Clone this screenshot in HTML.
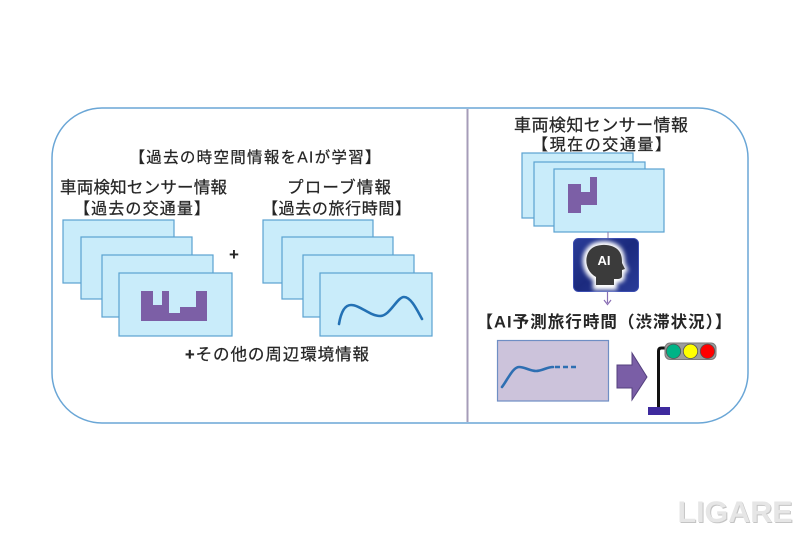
<!DOCTYPE html>
<html><head><meta charset="utf-8"><style>
html,body{margin:0;padding:0;background:#fff;width:800px;height:533px;overflow:hidden}
svg{display:block}
text{font-family:"Liberation Sans","Noto Sans CJK JP",sans-serif;fill:#262626}
.t{stroke:#262626;stroke-width:0.25}
</style></head><body>
<svg width="800" height="533" viewBox="0 0 800 533" xmlns="http://www.w3.org/2000/svg">
<defs>
<filter id="glow" x="-50%" y="-50%" width="200%" height="200%"><feGaussianBlur stdDeviation="2.2"/></filter>
<linearGradient id="navy" x1="0" y1="0" x2="1" y2="1"><stop offset="0" stop-color="#2a3c98"/><stop offset="0.5" stop-color="#1b2a7e"/><stop offset="1" stop-color="#2a3c98"/></linearGradient>
</defs>
<rect width="800" height="533" fill="#fff"/>
<rect x="52" y="108" width="696" height="315" rx="50" ry="50" fill="#fff" stroke="#6aa6d6" stroke-width="1.5"/>
<line x1="467.5" y1="109" x2="467.5" y2="422" stroke="#a69cb8" stroke-width="2"/>

<!-- left texts -->
<text class="t" x="255" y="162.5" font-size="15.5" text-anchor="middle" textLength="251" lengthAdjust="spacing">【過去の時空間情報をAIが学習】</text>
<text class="t" x="143.5" y="193" font-size="16.5" text-anchor="middle" textLength="167" lengthAdjust="spacing">車両検知センサー情報</text>
<text class="t" x="142" y="214" font-size="16" text-anchor="middle" textLength="136" lengthAdjust="spacing">【過去の交通量】</text>
<text class="t" x="339" y="193" font-size="16.5" text-anchor="middle" textLength="104" lengthAdjust="spacing">プローブ情報</text>
<text class="t" x="336.5" y="214" font-size="16" text-anchor="middle" textLength="149" lengthAdjust="spacing">【過去の旅行時間】</text>
<text x="234" y="260" font-size="17" font-weight="bold" text-anchor="middle">+</text>
<text class="t" x="277" y="360" font-size="16.5" text-anchor="middle" textLength="184" lengthAdjust="spacing"><tspan font-weight="bold">+</tspan>その他の周辺環境情報</text>

<!-- left stack 1 -->
<g fill="#c9ecfa" stroke="#5aa2d0" stroke-width="1.2">
<rect x="63" y="220" width="111" height="63"/>
<rect x="81" y="237" width="111" height="62"/>
<rect x="102" y="255" width="111" height="62"/>
<rect x="119" y="273" width="113" height="63"/>
</g>
<polygon points="141,291 153,291 153,305 162,305 162,291 169,291 169,313 180,313 180,307 196,307 196,291 207,291 207,321 141,321" fill="#7c5fa6"/>

<!-- left stack 2 -->
<g fill="#c9ecfa" stroke="#5aa2d0" stroke-width="1.2">
<rect x="263" y="220" width="110" height="63"/>
<rect x="282" y="237" width="111" height="62"/>
<rect x="303" y="255" width="111" height="62"/>
<rect x="320" y="273" width="112" height="63"/>
</g>
<path d="M339 324 C341 312 345 305 351 305 C360 305 370 316 380 316 C390 316 397 297 404 297 C411 297 417 310 422 319" fill="none" stroke="#2371b4" stroke-width="2.6" stroke-linecap="round"/>

<!-- right texts -->
<text class="t" x="601" y="131" font-size="17" text-anchor="middle" textLength="174" lengthAdjust="spacing">車両検知センサー情報</text>
<text class="t" x="601.5" y="150" font-size="16" text-anchor="middle" textLength="139" lengthAdjust="spacing">【現在の交通量】</text>

<g fill="#c9ecfa" stroke="#5aa2d0" stroke-width="1.2">
<rect x="522" y="153" width="111" height="65"/>
<rect x="534" y="162" width="111" height="64"/>
<rect x="554" y="169" width="110" height="63"/>
</g>
<polygon points="568,184 581,184 581,192 590,192 590,177 597,177 597,205 581,205 581,213 568,213" fill="#7c5fa6"/>

<line x1="608" y1="232" x2="608" y2="238" stroke="#8a7aa8" stroke-width="1"/>

<!-- AI box -->
<rect x="573.5" y="238.5" width="65" height="53" rx="5" fill="url(#navy)" stroke="#3a4cb0" stroke-width="1"/>
<g filter="url(#glow)">
<path d="M595 288 L595 279 C583 272 582 256 589 249 C595 241 614 241 620 250 C623 254 623 260 623 263 L626 270 L623 271 L623 277 C623 279 621 281 618 281 L615 281 L615 288 Z" fill="#ffffff" stroke="#ffffff" stroke-width="4"/>
</g>
<path d="M596 285 L596 277 C585 271 584 257 590 250 C596 243 613 243 619 251 C622 255 622 260 622 263 L625 269 L622 270 L622 276 C622 278 620 279 617 279 L614 279 L614 285 Z" fill="#3b3b3b"/>
<text x="604" y="265" font-size="13" font-weight="bold" text-anchor="middle" style="fill:#fff">AI</text>

<!-- arrow below AI -->
<line x1="607.5" y1="292" x2="607.5" y2="303" stroke="#8a6fb5" stroke-width="1.2"/>
<path d="M604 300 L607.5 304.5 L611 300" fill="none" stroke="#8a6fb5" stroke-width="1.2"/>

<text x="604" y="327.5" font-size="16.5" font-weight="bold" text-anchor="middle" textLength="255" lengthAdjust="spacing">【AI予測旅行時間（渋滞状況）】</text>

<!-- chart -->
<rect x="497.5" y="340.5" width="111" height="60.5" fill="#ccc3db" stroke="#6f8ec4" stroke-width="1.2"/>
<path d="M502 387 C508 379 513 367 519 367 C525 367 530 371 536 371 C542 371 547 367 553 367" fill="none" stroke="#2e6fb2" stroke-width="2.6" stroke-linecap="round"/>
<line x1="555" y1="367" x2="579" y2="367" stroke="#2e6fb2" stroke-width="2.6" stroke-dasharray="5 3"/>

<!-- big arrow -->
<polygon points="617,365 632,365 632,353 647,377 632,400 632,388 617,388" fill="#7a5ea6" stroke="#54407e" stroke-width="1"/>

<!-- traffic light -->
<path d="M658.5 408 L658.5 351 Q658.5 348 661.5 348 L667 348" fill="none" stroke="#111" stroke-width="3"/>
<rect x="665" y="343" width="51" height="16.5" rx="5" fill="#9d9d9d" stroke="#7a7a7a" stroke-width="1"/>
<circle cx="673.5" cy="351.3" r="7.2" fill="#00b386" stroke="#555" stroke-width="0.8"/>
<circle cx="690.5" cy="351.3" r="7.2" fill="#ffff00" stroke="#555" stroke-width="0.8"/>
<circle cx="707.5" cy="351.3" r="7.2" fill="#ff0000" stroke="#555" stroke-width="0.8"/>
<rect x="648" y="407" width="22" height="8" fill="#3e2a9e"/>

<!-- watermark -->
<text x="736" y="523" font-size="30" font-weight="bold" text-anchor="middle" textLength="115" lengthAdjust="spacingAndGlyphs" style="fill:#c4c4c4">LIGARE</text>
<text x="735" y="522" font-size="30" font-weight="bold" text-anchor="middle" textLength="115" lengthAdjust="spacingAndGlyphs" style="fill:#e6e6e6">LIGARE</text>
</svg>
</body></html>
